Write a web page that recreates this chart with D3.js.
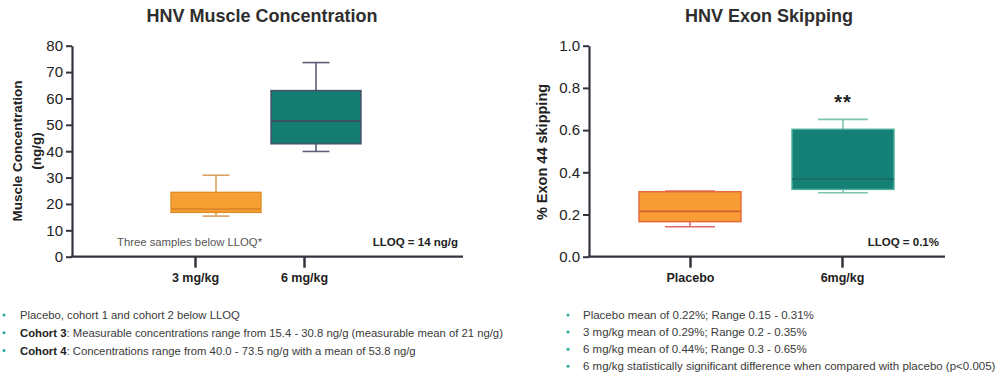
<!DOCTYPE html>
<html><head><meta charset="utf-8">
<script src="https://cdn.jsdelivr.net/npm/d3@7"></script>
<style>
body{margin:0;background:#fff;}
svg{display:block;font-family:"Liberation Sans",Arial,sans-serif;}
</style></head>
<body><svg id="c" width="996" height="376"></svg>
<script>
// ---- Data ----
const leftCategories = ["3 mg/kg", "6 mg/kg"];
const leftMin    = [15.4, 39.9];
const leftQ1     = [16.8, 42.8];
const leftMedian = [18.1, 51.4];
const leftQ3     = [24.4, 63.0];
const leftMax    = [30.9, 73.6];
const leftTicks  = [0,10,20,30,40,50,60,70,80];

const rightCategories = ["Placebo", "6mg/kg"];
const rightMin    = [0.142, 0.303];
const rightQ1     = [0.166, 0.319];
const rightMedian = [0.215, 0.368];
const rightQ3     = [0.308, 0.604];
const rightMax    = [0.311, 0.651];
const rightTicks  = [0,0.2,0.4,0.6,0.8,1.0];

const leftNotes = [
  [["Placebo, cohort 1 and cohort 2 below LLOQ", false]],
  [["Cohort 3", true], [": Measurable concentrations range from 15.4 - 30.8 ng/g (measurable mean of 21 ng/g)", false]],
  [["Cohort 4", true], [": Concentrations range from 40.0 - 73.5 ng/g with a mean of 53.8 ng/g", false]]
];
const rightNotes = [
  "Placebo mean of 0.22%; Range 0.15 - 0.31%",
  "3 mg/kg mean of 0.29%; Range 0.2 - 0.35%",
  "6 mg/kg mean of 0.44%; Range 0.3 - 0.65%",
  "6 mg/kg statistically significant difference when compared with placebo (p<0.005)"
];

const svg = d3.select("#c");
const axisColor = "#34343f";
const y0 = 256.7, y1 = 45.7;

function drawPanel(o){
  const g = svg.append("g");
  const y = d3.scaleLinear().domain(o.domain).range([y0, y1]);
  const x = d3.scalePoint().domain(o.cats).range(o.tickRange);
  const xb = d3.scalePoint().domain(o.cats).range(o.boxRange);

  g.append("text").attr("x", o.titleX).attr("y", 21.5).attr("text-anchor","middle")
    .attr("font-size", 18).attr("font-weight","bold").attr("fill","#2e2e2e").text(o.title);

  const ya = g.append("g").attr("transform", `translate(${o.axisX},0)`)
    .call(d3.axisLeft(y).tickValues(o.ticks).tickFormat(o.fmt).tickSize(6).tickPadding(3).tickSizeOuter(0));
  ya.select(".domain").attr("stroke", axisColor).attr("stroke-width", 2.2);
  ya.selectAll(".tick line").attr("stroke", axisColor).attr("stroke-width", 2);
  ya.selectAll(".tick text").attr("font-size", 15).attr("fill","#222")
    .attr("font-family","'Liberation Sans',Arial,sans-serif");

  const xa = g.append("g").attr("transform", `translate(0,${y0})`)
    .call(d3.axisBottom(x).tickSize(11).tickPadding(5.5));
  xa.select(".domain").remove();
  xa.selectAll(".tick line").attr("stroke", axisColor).attr("stroke-width", 2.5);
  xa.selectAll(".tick text").attr("font-size", 12.5).attr("font-weight","bold").attr("fill","#222")
    .attr("font-family","'Liberation Sans',Arial,sans-serif");
  g.append("line").attr("x1", o.axisX - 1).attr("x2", o.axisEnd).attr("y1", y0).attr("y2", y0)
    .attr("stroke", axisColor).attr("stroke-width", 2.2);

  const yt = g.append("text").attr("transform", `translate(${o.yTitleX},${o.yTitleY}) rotate(-90)`)
    .attr("text-anchor","middle").attr("font-weight","bold").attr("font-size", o.yTitleSize).attr("fill","#222");
  o.yTitle.forEach((t,i)=> yt.append("tspan").attr("x",0).attr("dy", i===0?0:o.yTitleLead).text(t));

  o.cats.forEach((c,i)=>{
    const cx = xb(c), st = o.styles[i], hw = o.boxW/2, cw = o.capW/2;
    const bg = g.append("g");
    bg.append("line").attr("x1",cx).attr("x2",cx).attr("y1",y(o.max[i])).attr("y2",y(o.q3[i]))
      .attr("stroke",st.whisker).attr("stroke-width",1.6);
    bg.append("line").attr("x1",cx).attr("x2",cx).attr("y1",y(o.min[i])).attr("y2",y(o.q1[i]))
      .attr("stroke",st.whisker).attr("stroke-width",1.6);
    bg.append("line").attr("x1",cx-cw).attr("x2",cx+cw).attr("y1",y(o.max[i])).attr("y2",y(o.max[i]))
      .attr("stroke",st.whisker).attr("stroke-width",1.6);
    bg.append("line").attr("x1",cx-cw).attr("x2",cx+cw).attr("y1",y(o.min[i])).attr("y2",y(o.min[i]))
      .attr("stroke",st.whisker).attr("stroke-width",1.6);
    bg.append("rect").attr("x",cx-hw).attr("width",o.boxW).attr("y",y(o.q3[i]))
      .attr("height",y(o.q1[i])-y(o.q3[i])).attr("fill",st.fill).attr("stroke",st.stroke).attr("stroke-width",1.4);
    bg.append("line").attr("x1",cx-hw).attr("x2",cx+hw).attr("y1",y(o.median[i])).attr("y2",y(o.median[i]))
      .attr("stroke",st.median).attr("stroke-width",1.6);
  });
  return {g, x, y, xb};
}

const L = drawPanel({
  title:"HNV Muscle Concentration", titleX:262,
  domain:[0,80], ticks:leftTicks, fmt:d3.format("d"),
  cats:leftCategories, tickRange:[195,304], boxRange:[216,316],
  axisX:72, axisEnd:463,
  yTitle:["Muscle Concentration","(ng/g)"], yTitleX:21.5, yTitleY:151, yTitleSize:13.5, yTitleLead:19.5,
  min:leftMin,q1:leftQ1,median:leftMedian,q3:leftQ3,max:leftMax,
  boxW:90, capW:27,
  styles:[{fill:"#f6a033",stroke:"#e08d2a",median:"#d9822a",whisker:"#d7a262"},
          {fill:"#157c72",stroke:"#4a4e68",median:"#3e4a62",whisker:"#5b5e76"}]
});
L.g.append("text").attr("x",117).attr("y",246).attr("font-size",11.3).attr("fill","#555").text("Three samples below LLOQ*");
L.g.append("text").attr("x",458).attr("y",246).attr("text-anchor","end").attr("font-size",11.5)
  .attr("font-weight","bold").attr("fill","#222").text("LLOQ = 14 ng/g");

const R = drawPanel({
  title:"HNV Exon Skipping", titleX:769,
  domain:[0,1], ticks:rightTicks, fmt:d3.format(".1f"),
  cats:rightCategories, tickRange:[690,842], boxRange:[690,843],
  axisX:589, axisEnd:945,
  yTitle:["% Exon 44 skipping"], yTitleX:547, yTitleY:152, yTitleSize:14.5, yTitleLead:0,
  min:rightMin,q1:rightQ1,median:rightMedian,q3:rightQ3,max:rightMax,
  boxW:102, capW:50,
  styles:[{fill:"#f89d35",stroke:"#e5683c",median:"#d0652a",whisker:"#e06a6a"},
          {fill:"#158075",stroke:"#4fae9c",median:"#1b6b62",whisker:"#7cc4b3"}]
});
R.g.append("text").attr("x",R.xb("6mg/kg")).attr("y",R.y(rightMax[1]) - 10).attr("text-anchor","middle")
  .attr("font-size",20).attr("font-weight","bold").attr("letter-spacing",1).attr("fill","#222").text("**");
R.g.append("text").attr("x",939).attr("y",246).attr("text-anchor","end").attr("font-size",11.5)
  .attr("font-weight","bold").attr("fill","#222").text("LLOQ = 0.1%");

const bulletColor = "#27a99c";
leftNotes.forEach((parts,i)=>{
  const yy = 319 + i*17.8;
  svg.append("circle").attr("cx",4).attr("cy",yy-4).attr("r",1.5).attr("fill",bulletColor);
  const t = svg.append("text").attr("x",20).attr("y",yy).attr("font-size",11.3).attr("fill","#3a3a3a");
  parts.forEach(p=> t.append("tspan").attr("font-weight", p[1]?"bold":"normal").attr("fill", p[1]?"#222":"#3a3a3a").text(p[0]));
});
rightNotes.forEach((s,i)=>{
  const yy = 319 + i*17.1;
  svg.append("circle").attr("cx",568).attr("cy",yy-4).attr("r",1.5).attr("fill",bulletColor);
  svg.append("text").attr("x",583).attr("y",yy).attr("font-size",11.5).attr("fill","#3a3a3a").text(s);
});
</script></body></html>
